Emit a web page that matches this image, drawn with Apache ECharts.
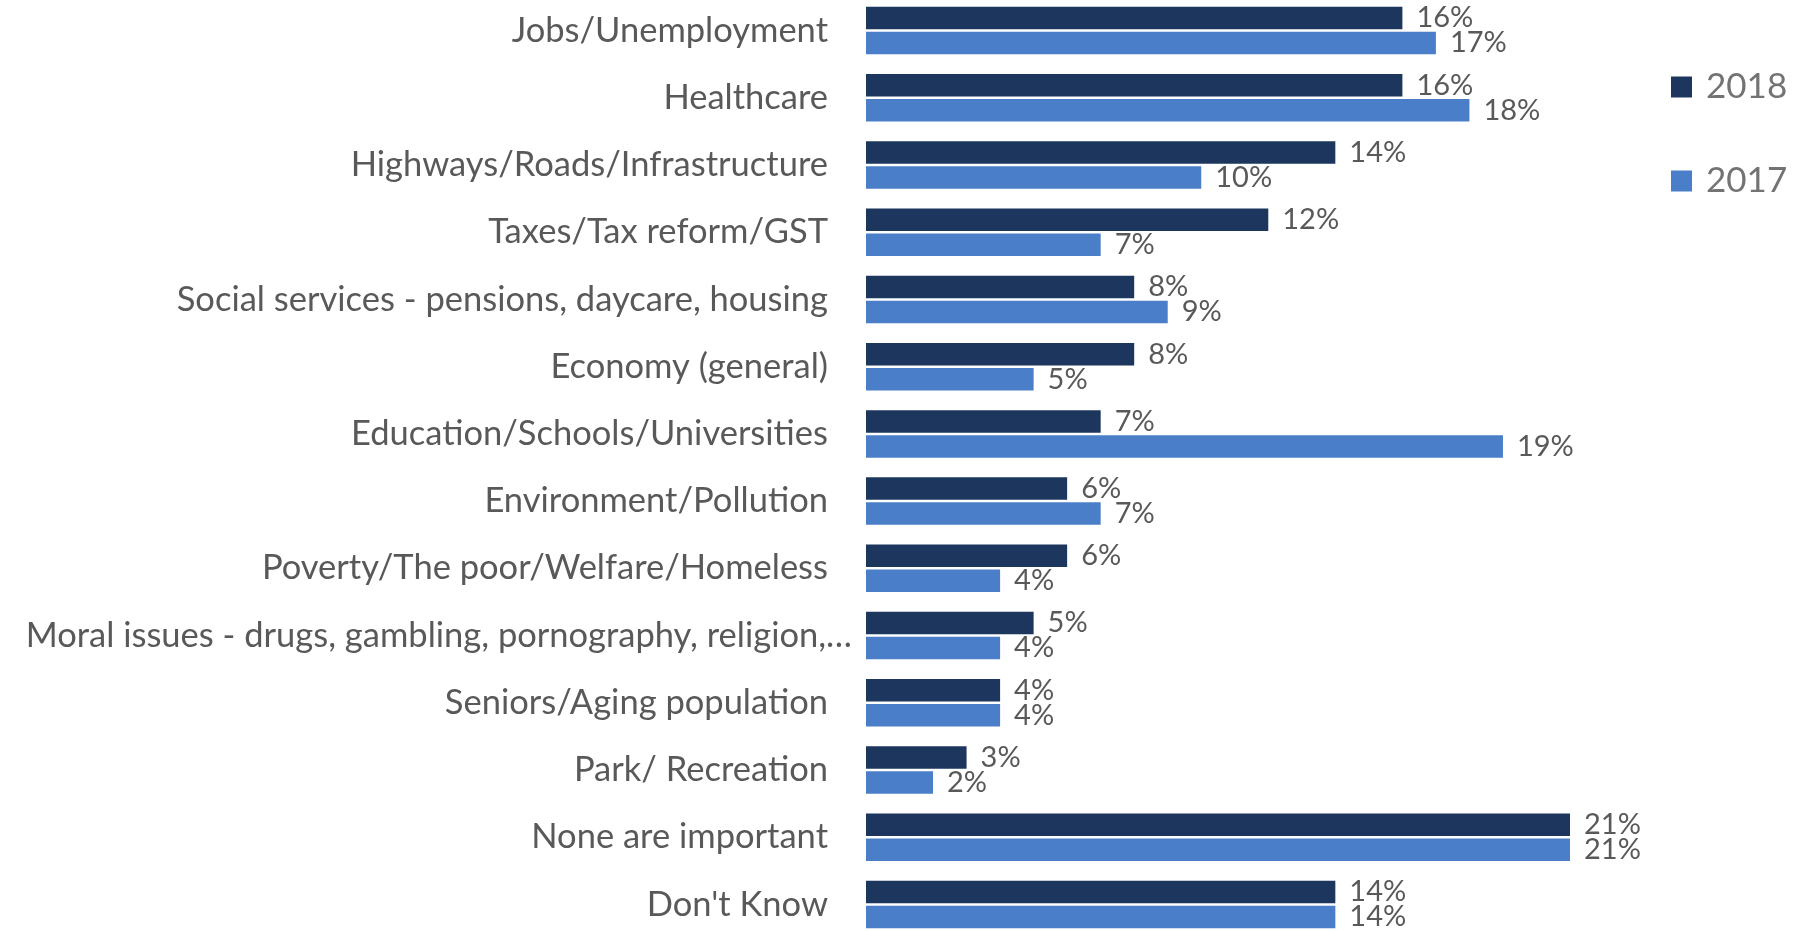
<!DOCTYPE html>
<html>
<head>
<meta charset="utf-8">
<style>
  html, body { margin: 0; padding: 0; background: #fff; }
  #container { width: 1798px; height: 931px; }
</style>
<script src="https://cdn.jsdelivr.net/npm/echarts@6/dist/echarts.min.js"></script>
</head>
<body>
<div id="container"></div>
<script>
// categories, top to bottom
const categories = [
  'Jobs/Unemployment',
  'Healthcare',
  'Highways/Roads/Infrastructure',
  'Taxes/Tax reform/GST',
  'Social services - pensions, daycare, housing',
  'Economy (general)',
  'Education/Schools/Universities',
  'Environment/Pollution',
  'Poverty/The poor/Welfare/Homeless',
  'Moral issues - drugs, gambling, pornography, religion,…',
  'Seniors/Aging population',
  'Park/ Recreation',
  'None are important',
  "Don't Know"
];
const years = ['2018', '2017'];
const values2018 = [16, 16, 14, 12, 8, 8, 7, 6, 6, 5, 4, 3, 21, 14];
const values2017 = [17, 18, 10, 7, 9, 5, 19, 7, 4, 4, 4, 2, 21, 14];

const longLabel = categories[9];
const font = 'Lato';

let option = {
  animation: false,
  grid: {
    left: 866,
    width: 704,
    top: -3,
    height: 941,
    outerBoundsMode: 'none'
  },
  legend: {
    data: years,
    orient: 'vertical',
    left: 1671,
    top: 67,
    padding: 0,
    icon: 'rect',
    itemWidth: 21,
    itemHeight: 21,
    itemGap: 54,
    textStyle: {
      fontFamily: font,
      fontSize: 35,
      lineHeight: 40,
      color: '#737373',
      padding: [0, 0, 0, 9]
    }
  },
  xAxis: {
    type: 'value',
    min: 0,
    max: 21,
    show: false
  },
  yAxis: {
    type: 'category',
    inverse: true,
    data: categories.map(c => ({
      value: c,
      textStyle: c === longLabel ? {} : { padding: [0, 24, 0, 0] }
    })),
    axisLine: { show: false },
    axisTick: { show: false },
    splitLine: { show: false },
    axisLabel: {
      margin: 14,
      fontFamily: font,
      fontSize: 34.5,
      color: '#595959'
    }
  },
  series: [
    {
      name: '2018',
      type: 'bar',
      data: values2018,
      barWidth: 22.5,
      barGap: '11%',
      itemStyle: { color: '#1D365D' },
      label: {
        show: true,
        position: 'right',
        distance: 14,
        formatter: '{c}%',
        fontFamily: font,
        fontSize: 29,
        color: '#595959'
      }
    },
    {
      name: '2017',
      type: 'bar',
      data: values2017,
      barWidth: 22.5,
      barGap: '11%',
      itemStyle: { color: '#4A7EC9' },
      label: {
        show: true,
        position: 'right',
        distance: 14,
        formatter: '{c}%',
        fontFamily: font,
        fontSize: 29,
        color: '#595959'
      }
    }
  ]
};

let myChart = echarts.init(document.getElementById('container'));
myChart.setOption(option);
</script>
</body>
</html>
